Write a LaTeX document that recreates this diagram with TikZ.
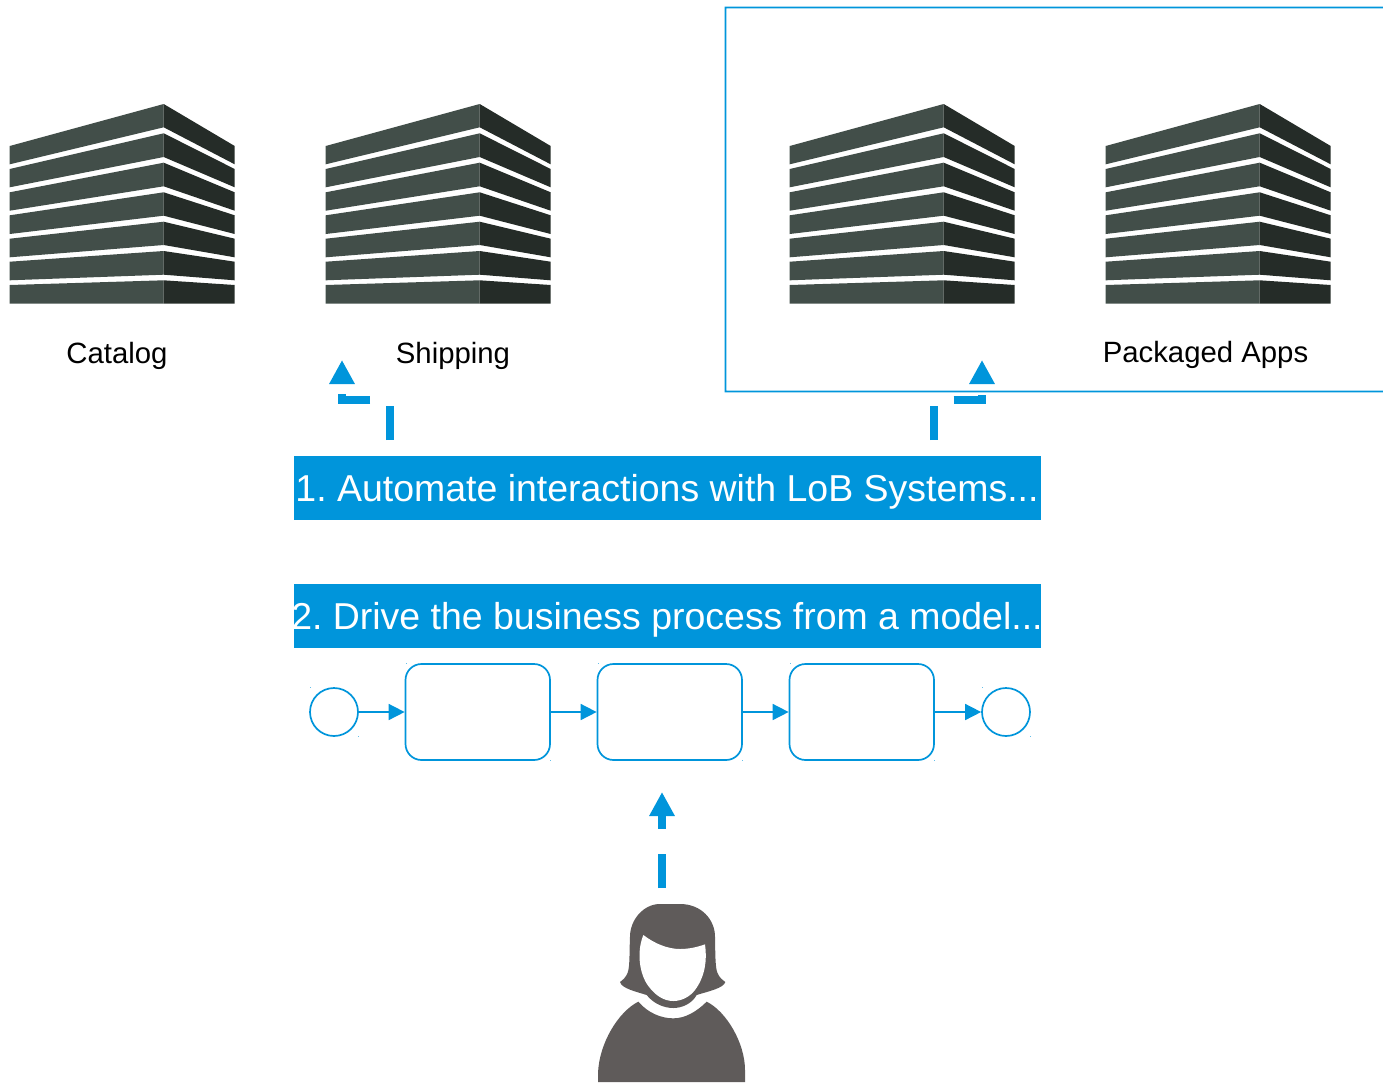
\documentclass[tikz,border=0pt]{standalone}
\usepackage{fontspec}
\setmainfont{Liberation Sans}
\frenchspacing
\usetikzlibrary{arrows.meta}
\definecolor{ibmblue}{HTML}{0095DB}
\definecolor{bleft}{HTML}{424E49}
\definecolor{bright}{HTML}{252C28}
\definecolor{personc}{HTML}{5F5B5A}
\tikzset{
  banner/.style={fill=ibmblue,text=white,minimum width=747pt,minimum height=64pt,inner sep=0pt,font=\fontsize{37.45}{40}\selectfont,text height=26pt,text depth=0pt},
  lbl/.style={anchor=base,inner sep=0pt,font=\fontsize{29.33}{32}\selectfont,text=black},
  flowbox/.style={draw=ibmblue,line width=1.7pt,rounded corners=16pt,minimum width=144.5pt,minimum height=96pt,inner sep=0pt,fill=white},
  evt/.style={draw=ibmblue,line width=1.7pt,circle,minimum size=48pt,inner sep=0pt,fill=white},
  flow/.style={draw=ibmblue,line width=1.6pt,-{Triangle[length=16pt,width=16pt]}},
  bigarrow/.style={draw=ibmblue,line width=8pt,dash pattern=on 34pt off 25.5pt,-{Triangle[length=24pt,width=24pt,fill=ibmblue]}},
  speck/.style={fill=ibmblue!60,draw=none},
  pics/tower/.style={code={
    \foreach \la/\lb/\ca/\cb in {146/164.3/104/127.3,169/187.3/133.3/157,192.3/210.7/162.7/186.3,215.3/234/192.3/215.7,238.7/257.3/221.7/245,261.7/280.3/251/274.7,285/303.7/280.3/303.7}{
      \fill[bleft] (9.7,\la) -- (163.7,\ca) -- (163.7,\cb) -- (9.7,\lb) -- cycle;
      \fill[bright] (163.7,\ca) -- (234.7,\la) -- (234.7,\lb) -- (163.7,\cb) -- cycle;
    }
  }}
}
\begin{document}
\begin{tikzpicture}[x=1pt,y=-1pt]
\useasboundingbox (0,0) rectangle (1383,1082);
% frame, open at the right-hand edge of the page
\fill[ibmblue] (1383,6.7) -- (724.7,6.7) -- (724.7,392.3) -- (1383,392.3) -- (1383,390.7) -- (726.3,390.7) -- (726.3,8.3) -- (1383,8.3) -- cycle;
% towers
\pic at (0,0) {tower};
\pic at (316,0) {tower};
\pic at (780,0) {tower};
\pic at (1096,0) {tower};
% labels
\node[lbl] (catalog) at (117,363) {Catalog};
\node[lbl] (shipping) at (453,363) {Shipping};
\node[lbl] (packaged) at (1205.5,362) {Packaged Apps};
% banners
\node[banner] (b1) at (667.5,488) {\makebox[0pt][c]{\hspace{-1pt}1. Automate interactions with LoB Systems...}};
\node[banner] (b2) at (667.5,616) {\makebox[0pt][c]{\hspace{-1pt}2. Drive the business process from a model...}};
% process
\node[evt] (start) at (334,712) {};
\node[flowbox] (t1) at (477.75,712) {};
\node[flowbox] (t2) at (669.75,712) {};
\node[flowbox] (t3) at (861.75,712) {};
\node[evt] (stop) at (1006,712) {};
\draw[flow] (start) -- (t1);
\draw[flow] (t1) -- (t2);
\draw[flow] (t2) -- (t3);
\draw[flow] (t3) -- (stop);
% specks
\foreach \px/\py in {310/687,358/736,406/663,550/760,598/663,742/760,790/663,934/760,982/687,1030/736}
  \fill[speck] (\px-.5,\py-.5) rectangle (\px+.5,\py+.5);
% dashed arrows
\coordinate (s1) at (389.5,440);
\coordinate (m1a) at (389.5,400);
\coordinate (m1b) at (342,400);
\coordinate (e1) at (342,360);
\draw[bigarrow] (s1) -- (m1a) -- (m1b) -- (e1);
\coordinate (s2) at (934,440);
\coordinate (m2a) at (934,400);
\coordinate (m2b) at (982,400);
\coordinate (e2) at (982,360);
\draw[bigarrow] (s2) -- (m2a) -- (m2b) -- (e2);
\coordinate (s3) at (662,888);
\coordinate (e3) at (662,792);
\draw[bigarrow] (s3) -- (e3);
% person
\begin{scope}[shift={(580,780)},x=0.33333pt,y=-0.33333pt]
  \fill[personc] (240,372) -- (300,372)
    .. controls (365,372) and (405,420) .. (405,470)
    .. controls (406,510) and (405,560) .. (412,578)
    .. controls (417,592) and (428,600) .. (436,606)
    .. controls (430,625) and (385,634) .. (350,645)
    .. controls (335,672) and (305,684) .. (280,684)
    .. controls (250,684) and (220,670) .. (200,645)
    .. controls (165,634) and (125,625) .. (120,606)
    .. controls (128,600) and (138,592) .. (143,578)
    .. controls (150,560) and (148,510) .. (150,470)
    .. controls (150,420) and (190,372) .. (240,372) -- cycle;
  \fill[white] (190,465)
    .. controls (225,492) and (265,507) .. (300,507)
    .. controls (325,507) and (350,502) .. (375,493)
    .. controls (382,540) and (375,590) .. (345,630)
    .. controls (330,650) and (305,663) .. (280,663)
    .. controls (250,663) and (225,645) .. (205,618)
    .. controls (180,585) and (168,520) .. (190,465) -- cycle;
  \fill[personc] (175,665)
    .. controls (205,700) and (245,715) .. (280,715)
    .. controls (315,715) and (350,695) .. (380,665)
    .. controls (440,695) and (495,790) .. (495,870)
    -- (495,906) -- (54,906) -- (54,880)
    .. controls (57,790) and (115,695) .. (175,665) -- cycle;
\end{scope}
\end{tikzpicture}
\end{document}
